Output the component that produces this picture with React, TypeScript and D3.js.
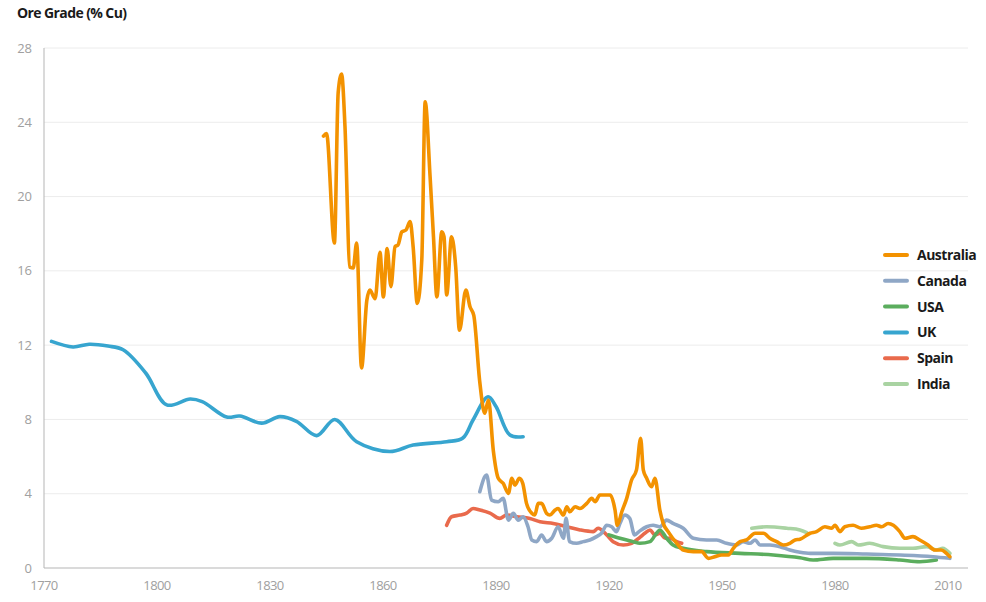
import React from 'react';
import * as d3 from 'd3';

type Pt = [number, number];

// Ore grade (% Cu) by year
const australia: Pt[] = [
  [1844.2, 23.26], [1845, 23.4], [1847.1, 17.5], [1848.1, 25.6], [1849, 26.6], [1849.9, 23.8],
  [1851.2, 16.2], [1852.1, 16.15], [1853, 17.5], [1854.3, 10.77], [1855.7, 14.4], [1856.5, 14.97],
  [1857.9, 14.5], [1859.2, 17.0], [1860.1, 14.6], [1861.1, 17.2], [1862.1, 15.15], [1863.2, 17.3],
  [1864, 17.4], [1865, 18.1], [1866.1, 18.2], [1867.2, 18.65], [1868, 17.3], [1869.1, 14.25],
  [1870.3, 16.6], [1871.2, 25.1], [1872.5, 21.07], [1873.4, 17.84], [1874.3, 14.6], [1875.6, 18.1],
  [1876.2, 17.84], [1876.9, 14.7], [1878.2, 17.84], [1879.3, 16.22], [1880.3, 12.8], [1882, 14.97],
  [1883.1, 14.07], [1884.1, 13.6], [1885.7, 10.0], [1887, 8.33], [1888, 9.05], [1889.3, 6.3],
  [1890.6, 4.83], [1891.9, 4.56], [1893.3, 4.02], [1894.2, 4.83], [1895, 4.47], [1896.2, 4.83],
  [1897.1, 4.56], [1898.1, 3.48], [1899.5, 2.95], [1900.3, 2.85], [1901.2, 3.48], [1902.1, 3.48],
  [1903.4, 2.95], [1904.3, 2.85], [1905.7, 3.12], [1906.5, 3.2], [1907.9, 2.85], [1908.8, 3.3],
  [1909.6, 3.03], [1911, 3.3], [1912.3, 3.2], [1914.1, 3.48], [1915.4, 3.75], [1916.3, 3.57],
  [1917.6, 3.93], [1918.9, 3.93], [1920.3, 3.93], [1921.6, 3.12], [1922.2, 2.3], [1923.4, 3.03],
  [1924.7, 3.75], [1926, 4.74], [1927.3, 5.28], [1928.4, 6.98], [1929.1, 5.28], [1930, 4.83],
  [1931.3, 4.38], [1932.2, 4.83], [1933.5, 3.12], [1934.4, 2.4], [1935.7, 1.96], [1938, 1.33],
  [1939.7, 0.97], [1942.4, 0.88], [1944.6, 0.88], [1946.4, 0.52], [1948.1, 0.61], [1949.9, 0.7],
  [1951.7, 0.7], [1953, 1.06], [1954.8, 1.42], [1956.5, 1.51], [1958.8, 1.87], [1961, 1.87],
  [1962.7, 1.6], [1964.5, 1.42], [1966.3, 1.24], [1968, 1.33], [1969.4, 1.51], [1970.7, 1.55],
  [1973.4, 1.87], [1975.1, 1.96], [1977.3, 2.22], [1979.1, 2.14], [1980, 2.3], [1981.3, 1.96],
  [1982.6, 2.22], [1984.8, 2.3], [1987, 2.14], [1989.2, 2.22], [1991, 2.3], [1992.4, 2.22],
  [1994.1, 2.4], [1995.5, 2.3], [1997.2, 1.96], [1998.6, 1.6], [2000.7, 1.69], [2002.5, 1.51],
  [2004.7, 1.24], [2006.5, 0.97], [2008.2, 0.97], [2009.6, 0.79], [2010.5, 0.61],
];

const canada: Pt[] = [
  [1885.7, 4.11], [1887.5, 5.0], [1888.8, 3.66], [1890.6, 3.57], [1891.9, 3.75], [1893.3, 2.58],
  [1894.6, 2.95], [1895.9, 2.58], [1897.2, 2.76], [1898.5, 2.22], [1899.5, 1.51], [1900.8, 1.42],
  [1902.1, 1.78], [1903.4, 1.42], [1904.8, 1.6], [1906.5, 2.22], [1907.9, 1.6], [1908.6, 2.67],
  [1909.5, 1.42], [1911.4, 1.33], [1913.2, 1.42], [1914.9, 1.51], [1916.7, 1.69], [1918, 1.87],
  [1919.4, 2.3], [1920.7, 2.22], [1922, 1.96], [1922.9, 2.4], [1924.2, 2.85], [1925.5, 2.67],
  [1926.8, 1.78], [1928.2, 2.0], [1930, 2.22], [1931.7, 2.3], [1933.5, 2.22], [1935.3, 2.58],
  [1937, 2.4], [1939.7, 2.14], [1942.4, 1.6], [1945.9, 1.51], [1948.6, 1.51], [1951.2, 1.33],
  [1953.9, 1.24], [1955.6, 1.42], [1957.4, 1.33], [1958.8, 1.51], [1960.1, 1.24], [1962.7, 1.24],
  [1965.4, 1.15], [1968, 0.97], [1970.7, 0.85], [1973.4, 0.79], [1979.5, 0.79], [1988.4, 0.75],
  [1997.2, 0.7], [2006, 0.61], [2010.5, 0.52],
];

const usa: Pt[] = [
  [1920, 1.78], [1922.9, 1.6], [1926.4, 1.42], [1928.2, 1.33], [1930.9, 1.42], [1932.6, 1.87],
  [1933.5, 2.05], [1935.3, 1.6], [1937, 1.24], [1939.7, 1.06], [1945.9, 0.88], [1954.8, 0.79],
  [1963.6, 0.7], [1970.7, 0.55], [1974.2, 0.43], [1979.5, 0.52], [1988.4, 0.52], [1997.2, 0.43],
  [2002.5, 0.34], [2006.9, 0.43],
];

const uk: Pt[] = [
  [1772, 12.2], [1777.7, 11.9], [1782, 12.05], [1787, 11.95], [1791, 11.75], [1797, 10.5],
  [1802.6, 8.78], [1808.8, 9.1], [1812, 8.96], [1818.5, 8.13], [1822, 8.18], [1827.8, 7.8],
  [1832.6, 8.15], [1837, 7.9], [1842.4, 7.13], [1847.2, 8.0], [1853, 6.8], [1861.8, 6.27],
  [1868, 6.62], [1876.9, 6.8], [1881.2, 7.0], [1883.9, 7.97], [1887.9, 9.22], [1890, 8.7],
  [1893.7, 7.16], [1897.2, 7.07],
];

const spain: Pt[] = [
  [1876.9, 2.3], [1878.2, 2.76], [1880.4, 2.85], [1882.2, 2.95], [1883.9, 3.2], [1885.7, 3.12],
  [1888.4, 2.95], [1891, 2.67], [1892.8, 2.85], [1895.5, 2.76], [1899, 2.67], [1901.7, 2.49],
  [1905.2, 2.4], [1908.8, 2.22], [1912.3, 2.05], [1915.8, 1.96], [1917.1, 2.14], [1919.4, 1.78],
  [1921.1, 1.42], [1923.8, 1.24], [1926, 1.33], [1928.2, 1.65], [1929.5, 1.87], [1930.9, 2.05],
  [1932.2, 1.78], [1933.5, 1.87], [1934.9, 1.6], [1936.2, 1.6], [1938, 1.42], [1939.3, 1.33],
];

// India has a break between the two runs (NaN = no data)
const india: Pt[] = [
  [1957.9, 2.14], [1961.8, 2.22], [1967.2, 2.14], [1970.7, 2.05], [1972.5, 1.9], [1976, NaN],
  [1980, 1.33], [1981.3, 1.24], [1984.4, 1.42], [1986.2, 1.24], [1989.2, 1.33], [1992.8, 1.15],
  [1997.2, 1.06], [2000.7, 1.06], [2004.3, 1.15], [2006.9, 0.97], [2008.6, 1.06], [2010.5, 0.79],
];

const xTicks = [1770, 1800, 1830, 1860, 1890, 1920, 1950, 1980, 2010];
const yTicks = [0, 4, 8, 12, 16, 20, 24, 28];

const series = [
  { name: 'Australia', data: australia, color: '#F39200' },
  { name: 'Canada', data: canada, color: '#8FA7C6' },
  { name: 'USA', data: usa, color: '#5BAD5E' },
  { name: 'UK', data: uk, color: '#37A5CF' },
  { name: 'Spain', data: spain, color: '#E96A4C' },
  { name: 'India', data: india, color: '#A9D3A2' },
];

const W = 986;
const H = 602;

const App: React.FC = () => {
  const x = d3.scaleLinear().domain([1770, 2010]).range([44, 948]);
  const y = d3.scaleLinear().domain([0, 28]).range([568, 48]);
  const right = 968;

  const lineFor = (name: string) =>
    d3.line<Pt>()
      .defined(d => !isNaN(d[1]))
      .x(d => x(d[0]))
      .y(d => y(d[1]))
      .curve(name === 'UK' ? d3.curveCatmullRom.alpha(0.5) : d3.curveMonotoneX);

  // draw back to front, Australia on top
  const drawOrder = ['India', 'Spain', 'UK', 'USA', 'Canada', 'Australia'];
  const font = "'Open Sans', 'Liberation Sans', sans-serif";

  return (
    <svg width={W} height={H} style={{ position: 'absolute', left: 0, top: 0, background: '#fff' }}>
      {/* gridlines */}
      {yTicks.filter(t => t > 0).map(t => (
        <line key={t} x1={x(1770)} x2={right} y1={y(t)} y2={y(t)} stroke="#ececec" strokeWidth={1} />
      ))}
      {/* axes */}
      <line x1={x(1770)} x2={x(1770)} y1={y(28)} y2={y(0)} stroke="#b5b5b5" strokeWidth={1} />
      <line x1={x(1770)} x2={right} y1={y(0)} y2={y(0)} stroke="#b5b5b5" strokeWidth={1} />

      {yTicks.map(t => (
        <text key={t} x={32} y={y(t)} dy="0.35em" textAnchor="end" fontFamily={font}
          fontSize={13} fill="#a0a0a0">{t}</text>
      ))}
      {xTicks.map(t => (
        <text key={t} x={x(t)} y={590} textAnchor="middle" fontFamily={font}
          fontSize={13} fill="#a0a0a0" letterSpacing={-0.6}>{t}</text>
      ))}

      <text x={17} y={18} fontFamily={font} fontSize={14} fontWeight={700} fill="#1a1a1a"
        letterSpacing={-0.6}>Ore Grade (% Cu)</text>

      {drawOrder.map(n => {
        const s = series.find(d => d.name === n)!;
        return (
          <path key={n} d={lineFor(n)(s.data) || ''} fill="none" stroke={s.color}
            strokeWidth={3.6} strokeLinejoin="round" strokeLinecap="round" />
        );
      })}

      {/* legend */}
      {series.map((s, i) => {
        const ly = 255 + i * 25.8;
        return (
          <g key={s.name}>
            <line x1={885} x2={907} y1={ly} y2={ly} stroke={s.color} strokeWidth={4} strokeLinecap="round" />
            <text x={917} y={ly} dy="0.35em" fontFamily={font} fontSize={14} fontWeight={700}
              fill="#1a1a1a" letterSpacing={-0.5}>{s.name}</text>
          </g>
        );
      })}
    </svg>
  );
};

export default App;
